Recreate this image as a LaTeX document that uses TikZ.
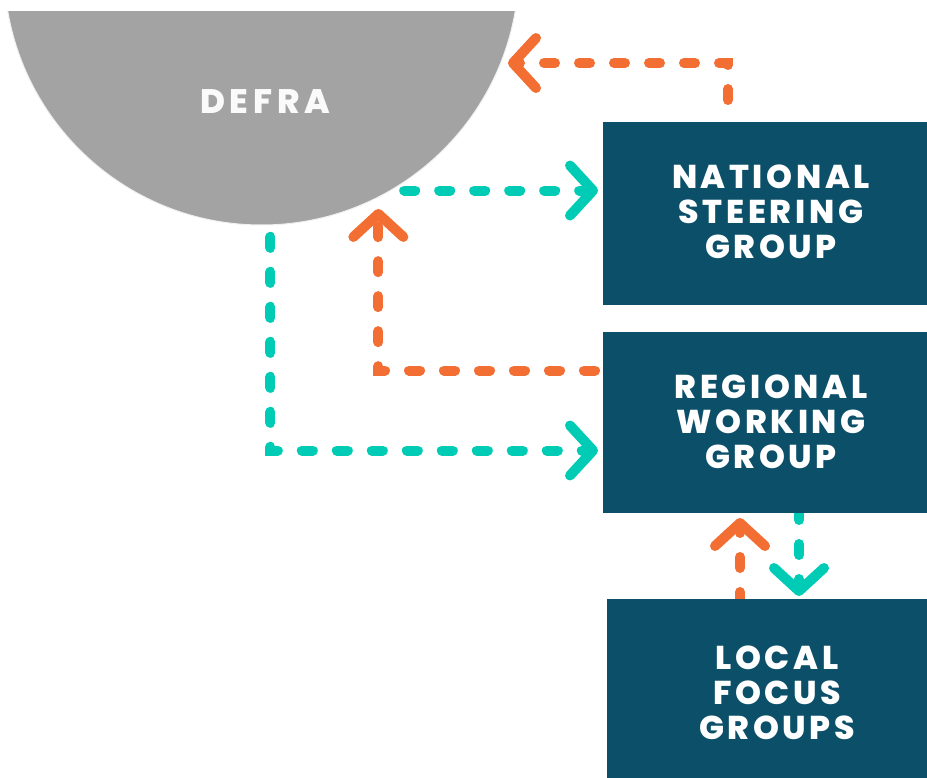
\documentclass[tikz,border=0pt]{standalone}
\usepackage{fontspec}
\usetikzlibrary{arrows.meta,calc,backgrounds}
\newfontfamily\popfont{Poppins ExtraBold}[LetterSpace=11]
\newfontfamily\popwidefont{Poppins ExtraBold}[LetterSpace=14]
\definecolor{defragray}{HTML}{A3A3A3}
\definecolor{boxblue}{HTML}{0B4F69}
\definecolor{flowteal}{HTML}{00CCB6}
\definecolor{floworange}{HTML}{F26E32}
\begin{document}
\begin{tikzpicture}[x=1pt,y=-1pt,
  lbl/.style={text=white, font=\popfont\fontsize{33}{35}\selectfont, align=center, inner sep=0pt},
  groupbox/.style={fill=boxblue, draw=none, minimum height=183pt, inner sep=0pt, outer sep=0pt, anchor=north west},
  flow/.style={line width=10pt, line cap=round, dash pattern=on 11pt off 24pt,
    -{Straight Barb[length=23pt, width=50pt, round]}},
  tealflow/.style={flow, draw=flowteal},
  orangeflow/.style={flow, draw=floworange}]
\useasboundingbox (0,0) rectangle (927,778);
\clip (0,0) rectangle (927,778);
\begin{scope}
  \clip (0,12) rectangle (927,778);
  \node[circle, fill=defragray, draw=gray!12, line width=1pt, minimum size=514.8pt, inner sep=0pt, outer sep=0pt] (defra) at (261.5,-32.4) {};
\end{scope}
\node[lbl, text=white!96!gray, font=\popwidefont\fontsize{34}{36}\selectfont] (defratext) at (265,101.5) {DEFRA};
\node[groupbox, minimum width=336pt] (nsg) at (603,122) {};
\node[lbl] (nsgtext) at ([yshift=2pt]nsg.center) {NATIONAL\\STEERING\\GROUP};
\node[groupbox, minimum width=336pt, minimum height=181pt] (rwg) at (603,332) {};
\node[lbl] (rwgtext) at ([yshift=1pt]rwg.center) {REGIONAL\\WORKING\\GROUP};
\node[groupbox, minimum width=340pt] (lfg) at (607,599) {};
\node[lbl] (lfgtext) at ([yshift=-2pt]lfg.center) {LOCAL\\FOCUS\\GROUPS};
\coordinate (tipdefra) at (508,63);
\begin{scope}[on background layer]
  \draw[orangeflow, shorten <=22pt] ([xshift=125pt]nsg.north west) |- (tipdefra);
  \draw[tealflow, shorten <=14pt, shorten >=5pt] (defra.-60.6) -- (defra.-60.6 -| nsg.west);
  \draw[orangeflow, shorten <=8pt, shorten >=12pt] ([yshift=52pt]rwg.west) -| (defra.-63.1);
  \draw[tealflow, shorten <=12pt, shorten >=5pt] (defra.-88.1) |- ([yshift=-28pt]rwg.west);
  \draw[orangeflow, shorten >=5pt] ([xshift=133pt,yshift=-4pt]lfg.north west) -- ([xshift=137pt]rwg.south west);
  \draw[tealflow, shorten >=3pt] ([xshift=196pt,yshift=4pt]rwg.south west) -- ([xshift=192pt]lfg.north west);
\end{scope}
\end{tikzpicture}
\end{document}
